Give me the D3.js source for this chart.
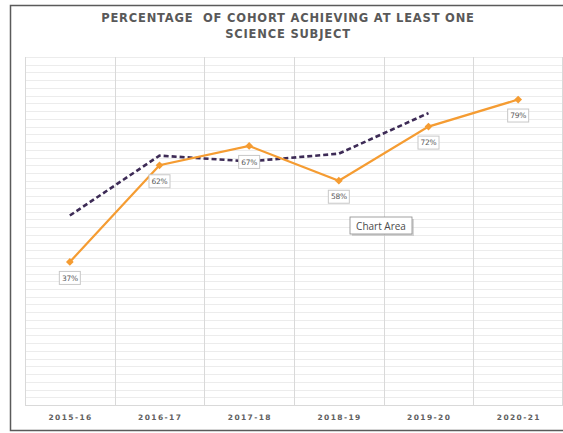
<!DOCTYPE html>
<html>
<head>
<meta charset="utf-8">
<script src="https://cdn.jsdelivr.net/npm/d3@7"></script>
<style>
  html, body { margin: 0; padding: 0; background: #fff; }
  svg { display: block; }
</style>
</head>
<body>
<svg id="chart" width="563" height="433"></svg>
<script>
// ---- data ----
const categories = ["2015-16", "2016-17", "2017-18", "2018-19", "2019-20", "2020-21"];
const schoolValues = [37, 62, 67, 58, 72, 79];           // orange series (labelled)
const comparisonValues = [49, 64.5, 63, 65, 75.5, null]; // dashed series
const titleLines = ["PERCENTAGE  OF COHORT ACHIEVING AT LEAST ONE", "SCIENCE SUBJECT"];
const yDomain = [0, 90];
const gridStep = 2;

const svg = d3.select("#chart");
const W = 563, H = 433;
const plot = { left: 25, right: 563, top: 57, bottom: 405 };

// frame
svg.append("path")
  .attr("d", `M${W},5.5 H10.5 V430.5 H${W}`)
  .attr("fill", "none").attr("stroke", "#5a5a5a").attr("stroke-width", 1.5);

const x = d3.scaleBand().domain(categories).range([plot.left, plot.right]).padding(0);
const y = d3.scaleLinear().domain(yDomain).range([plot.bottom, plot.top]);
const cx = d => x(d) + x.bandwidth() / 2;

// horizontal gridlines
const gridVals = d3.range(yDomain[0], yDomain[1] + 0.001, gridStep);
svg.append("g").selectAll("line").data(gridVals).join("line")
  .attr("x1", plot.left).attr("x2", plot.right)
  .attr("y1", d => Math.round(y(d)) + 0.5).attr("y2", d => Math.round(y(d)) + 0.5)
  .attr("stroke", "#ececec").attr("stroke-width", 1);

// vertical gridlines at category boundaries
const vLines = categories.map(c => x(c)).concat([x.range()[1] - 1]);
svg.append("g").selectAll("line").data(vLines).join("line")
  .attr("x1", d => Math.round(d) + 0.5).attr("x2", d => Math.round(d) + 0.5)
  .attr("y1", plot.top).attr("y2", plot.bottom)
  .attr("stroke", "#d9d9d9").attr("stroke-width", 1);

// bottom axis line
svg.append("line")
  .attr("x1", plot.left).attr("x2", plot.right)
  .attr("y1", plot.bottom + 0.5).attr("y2", plot.bottom + 0.5)
  .attr("stroke", "#d9d9d9");

// x axis labels
const xAxis = svg.append("g")
  .attr("transform", `translate(0,${plot.bottom + 10})`)
  .call(d3.axisBottom(x).tickSize(0).tickPadding(0));
xAxis.select(".domain").remove();
xAxis.selectAll("text")
  .attr("fill", "#606060")
  .attr("font-family", "'DejaVu Sans', sans-serif")
  .attr("font-size", "7.5px")
  .attr("font-weight", "bold")
  .style("letter-spacing", "1.4px")
  .attr("dx", "0.7px");

// title
svg.append("g").selectAll("text").data(titleLines).join("text")
  .attr("x", 288).attr("y", (d, i) => 22 + i * 16)
  .attr("text-anchor", "middle")
  .attr("fill", "#595959")
  .attr("font-family", "'DejaVu Sans', sans-serif")
  .attr("font-size", "11.5px")
  .attr("font-weight", "bold")
  .style("letter-spacing", "0.8px")
  .style("white-space", "pre")
  .text(d => d);

// dashed comparison line
const cmpData = categories.map((c, i) => ({ c, v: comparisonValues[i] }));
svg.append("path")
  .datum(cmpData)
  .attr("fill", "none")
  .attr("stroke", "#3d2b56")
  .attr("stroke-width", 2.6)
  .attr("stroke-dasharray", "5,3")
  .attr("d", d3.line().defined(d => d.v != null).x(d => cx(d.c)).y(d => y(d.v)));

// orange line
const schData = categories.map((c, i) => ({ c, v: schoolValues[i] }));
svg.append("path")
  .datum(schData)
  .attr("fill", "none")
  .attr("stroke", "#f59c32")
  .attr("stroke-width", 2.2)
  .attr("d", d3.line().x(d => cx(d.c)).y(d => y(d.v)));

// diamond markers (square rotated 45 degrees)
svg.append("g").selectAll("path").data(schData).join("path")
  .attr("transform", d => `translate(${cx(d.c)},${y(d.v)}) rotate(45)`)
  .attr("d", d3.symbol().type(d3.symbolSquare).size(30))
  .attr("fill", "#f59c32");

// data labels
const lab = svg.append("g").selectAll("g").data(schData).join("g")
  .attr("transform", d => `translate(${cx(d.c)},${y(d.v) + 16})`);
lab.append("rect")
  .attr("x", -10.5).attr("y", -6.5).attr("width", 21).attr("height", 13)
  .attr("fill", "#fff").attr("stroke", "#c8c8c8").attr("stroke-width", 1);
lab.append("text")
  .attr("text-anchor", "middle").attr("dy", "0.35em")
  .attr("fill", "#595959")
  .attr("font-family", "'DejaVu Sans', sans-serif")
  .attr("font-size", "7.5px")
  .style("letter-spacing", "-0.3px")
  .text(d => d.v + "%");

// "Chart Area" tooltip
const tip = svg.append("g").attr("transform", "translate(350,217)");
tip.append("rect").attr("x", 2).attr("y", 2).attr("width", 62).attr("height", 17)
  .attr("fill", "#bdbdbd").attr("opacity", 0.6);
tip.append("rect").attr("width", 62).attr("height", 17)
  .attr("fill", "#fff").attr("stroke", "#8a8a8a").attr("stroke-width", 0.8);
tip.append("text").attr("x", 31).attr("y", 12.5).attr("text-anchor", "middle")
  .attr("fill", "#4a4a4a")
  .attr("font-family", "'Open Sans', sans-serif")
  .attr("font-size", "10px")
  .text("Chart Area");
</script>
</body>
</html>
